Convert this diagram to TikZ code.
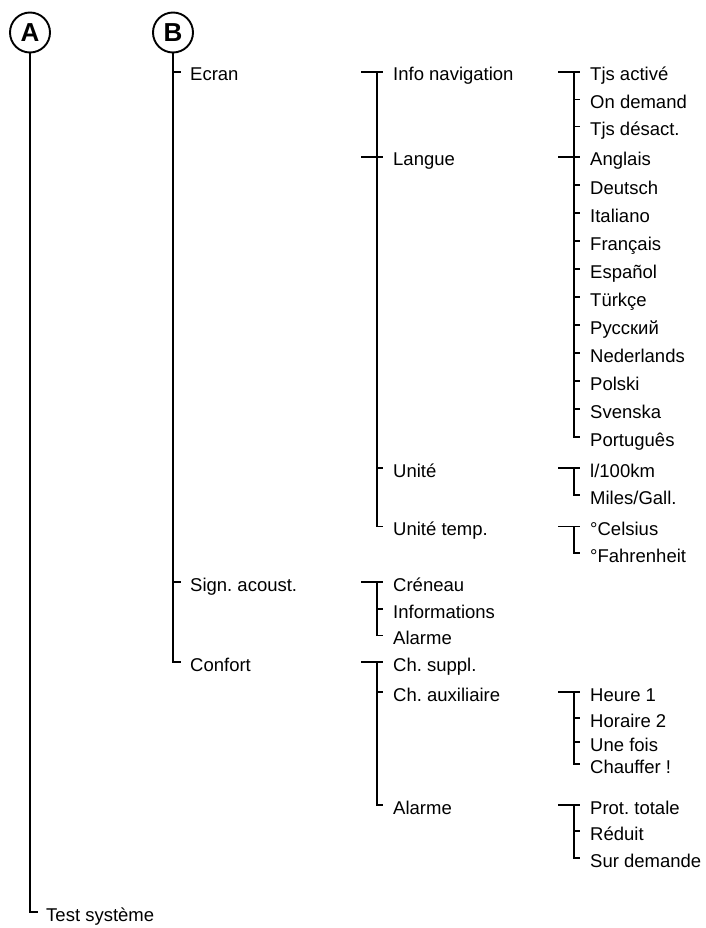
\documentclass[tikz,border=0pt]{standalone}
\usepackage{fontspec}
\setmainfont{Liberation Sans}
\newcommand\treeTee[1]{\draw[tree] ([xshift=-32pt]#1.west) -- ([xshift=-10pt]#1.west);}
\newcommand\treeTick[1]{\draw[tree] ([xshift=-16pt]#1.west) -- ([xshift=-10pt]#1.west);}
\newcommand\treeRun[2]{\draw[tree] ([xshift=-16pt]#1.west) |- ([xshift=-10pt]#2.west);}
\begin{document}
\frenchspacing
\begin{tikzpicture}[x=1pt,y=-1pt,
  lbl/.style={anchor=west,inner sep=0pt,text height=18pt,text depth=0pt,font=\fontsize{18.5}{20}\selectfont\frenchspacing},
  circ/.style={circle,draw,line width=1.9pt,minimum size=40pt,inner sep=0pt,font=\fontsize{26}{28}\selectfont\bfseries},
  tree/.style={line width=1.4pt}]
\useasboundingbox (0,0) rectangle (705,928);
% circles
\node[circ] (A) at (30,32.5) {A};
\node[circ] (B) at (173,32.5) {B};
% level 1
\node[lbl] (ecran) at (190,72) {Ecran};
\node[lbl] (sign) at (190,582) {Sign. acoust.};
\node[lbl] (confort) at (190,662) {Confort};
\node[lbl] (test) at (46,912) {Test système};
% level 2
\node[lbl] (infonav) at (393,72) {Info navigation};
\node[lbl] (langue) at (393,157) {Langue};
\node[lbl] (unite) at (393,468) {Unité};
\node[lbl] (unitetemp) at (393,526.5) {Unité temp.};
\node[lbl] (creneau) at (393,582) {Créneau};
\node[lbl] (informations) at (393,609) {Informations};
\node[lbl] (alarmeA) at (393,635.5) {Alarme};
\node[lbl] (chsuppl) at (393,662) {Ch. suppl.};
\node[lbl] (chaux) at (393,692) {Ch. auxiliaire};
\node[lbl] (alarmeB) at (393,805) {Alarme};
% level 3
\node[lbl] (tjsact) at (590,72) {Tjs activé};
\node[lbl] (ondemand) at (590,99.5) {On demand};
\node[lbl] (tjsdes) at (590,126.5) {Tjs désact.};
\node[lbl] (anglais) at (590,157) {Anglais};
\node[lbl] (deutsch) at (590,185) {Deutsch};
\node[lbl] (italiano) at (590,213) {Italiano};
\node[lbl] (francais) at (590,241) {Français};
\node[lbl] (espanol) at (590,269) {Español};
\node[lbl] (turkce) at (590,297) {Türkçe};
\node[lbl] (russkij) at (590,325) {Русский};
\node[lbl] (nederlands) at (590,353) {Nederlands};
\node[lbl] (polski) at (590,381) {Polski};
\node[lbl] (svenska) at (590,409) {Svenska};
\node[lbl] (portugues) at (590,437) {Português};
\node[lbl] (lkm) at (590,468) {l/100km};
\node[lbl] (miles) at (590,495) {Miles/Gall.};
\node[lbl] (celsius) at (590,526.5) {°Celsius};
\node[lbl] (fahrenheit) at (590,553) {°Fahrenheit};
\node[lbl] (heure) at (590,692) {Heure 1};
\node[lbl] (horaire) at (590,718) {Horaire 2};
\node[lbl] (unefois) at (590,742) {Une fois};
\node[lbl] (chauffer) at (590,764) {Chauffer !};
\node[lbl] (prot) at (590,805) {Prot. totale};
\node[lbl] (reduit) at (590,831) {Réduit};
\node[lbl] (surdemande) at (590,858) {Sur demande};
% A and B lines
\draw[tree] (A.south) |- ([xshift=-8pt]test.west);
\draw[tree] (B.south) |- ([xshift=-9pt]confort.west);
\draw[tree] (B.south |- ecran.west) -- ([xshift=-9pt]ecran.west);
\draw[tree] (B.south |- sign.west) -- ([xshift=-9pt]sign.west);
% Ecran group
\treeTee{infonav}\treeRun{infonav}{unitetemp}\treeTee{langue}\treeTick{unite}
% Info navigation + Langue
\treeTee{tjsact}\treeRun{tjsact}{portugues}\treeTick{ondemand}\treeTick{tjsdes}
\treeTee{anglais}
\foreach \n in {deutsch,italiano,francais,espanol,turkce,russkij,nederlands,polski,svenska}{\treeTick{\n}}
% Unite
\treeTee{lkm}\treeRun{lkm}{miles}
\treeTee{celsius}\treeRun{celsius}{fahrenheit}
% Sign. acoust.
\treeTee{creneau}\treeRun{creneau}{alarmeA}\treeTick{informations}
% Confort
\treeTee{chsuppl}\treeRun{chsuppl}{alarmeB}\treeTick{chaux}
\treeTee{heure}\treeRun{heure}{chauffer}\treeTick{horaire}\treeTick{unefois}
\treeTee{prot}\treeRun{prot}{surdemande}\treeTick{reduit}
\end{tikzpicture}
\end{document}
